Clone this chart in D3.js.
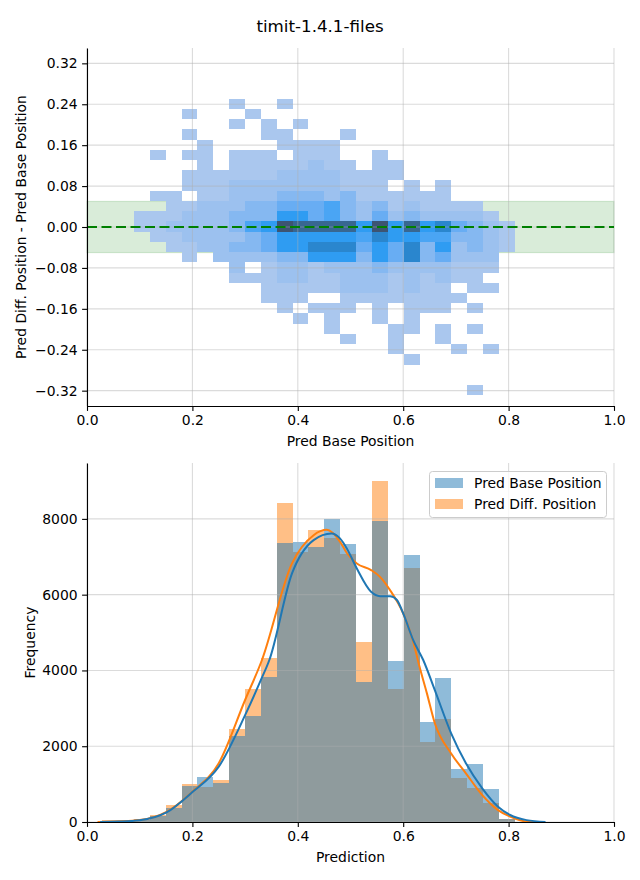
<!DOCTYPE html>
<html><head><meta charset="utf-8">
<script src="https://cdn.jsdelivr.net/npm/d3@7/dist/d3.min.js"></script>
<style>
body{margin:0;background:#fff}
text{font-family:"DejaVu Sans",sans-serif;fill:#000}
</style>
</head><body>
<svg id="c" width="640" height="880"></svg>
<script>
// ---------------- DATA ----------------
const title = "timit-1.4.1-files";
const xTickVals = [0, 0.2, 0.4, 0.6, 0.8, 1.0];
const xTickLabels = ["0.0", "0.2", "0.4", "0.6", "0.8", "1.0"];
const topYTickVals = [-0.32, -0.24, -0.16, -0.08, 0, 0.08, 0.16, 0.24, 0.32];
const topYTickLabels = ["\u22120.32", "\u22120.24", "\u22120.16", "\u22120.08", "0.00", "0.08", "0.16", "0.24", "0.32"];
const botYTickVals = [0, 2000, 4000, 6000, 8000];
const botYTickLabels = ["0", "2000", "4000", "6000", "8000"];

// 2D histogram bins (x: Pred Base Position, y: diff - base)
const heatXEdges = [0.0892,0.1193,0.1494,0.1795,0.2096,0.2397,0.2698,0.2999,0.3300,0.3601,0.3902,0.4203,0.4504,
                    0.4805,0.5106,0.5407,0.5708,0.6009,0.6310,0.6611,0.6912,0.7213,0.7514,0.7815,0.8116];
const heatYEdges = [0.251,0.231,0.211,0.191,0.171,0.151,0.131,0.111,0.091,0.071,0.051,0.031,0.011,-0.009,-0.029,
                    -0.049,-0.069,-0.089,-0.109,-0.129,-0.149,-0.169,-0.189,-0.209,-0.229,-0.249,-0.269,-0.289,-0.309,-0.329];
// relative density level per cell, rows top->bottom, 24 columns
const heatCounts = [
 [0,0,0,0,0,0,1,0,0,1,0,0,0,0,0,0,0,0,0,0,0,0,0,0],
 [0,0,0,1,0,0,0,1,0,0,0,0,0,0,0,0,0,0,0,0,0,0,0,0],
 [0,0,0,0,0,0,1,0,1,0,1,0,0,0,0,0,0,0,0,0,0,0,0,0],
 [0,0,0,1,0,0,0,0,1,1,0,0,0,1,0,0,0,0,0,0,0,0,0,0],
 [0,0,0,0,1,0,0,0,0,1,1,1,1,0,0,0,0,0,0,0,0,0,0,0],
 [0,1,0,1,1,0,1,1,1,0,1,1,1,0,0,1,0,0,0,0,0,0,0,0],
 [0,0,0,0,1,0,1,1,1,1,1,2,1,1,0,1,1,0,0,0,0,0,0,0],
 [0,0,0,1,1,1,1,1,1,2,2,2,2,1,1,1,1,0,0,0,0,0,0,0],
 [0,0,0,1,1,1,2,2,2,2,2,2,2,1,1,1,0,1,0,1,0,0,0,0],
 [0,1,1,0,1,1,2,2,2,3,3,3,2,3,1,1,1,1,1,1,0,0,0,0],
 [0,0,1,1,2,2,2,3,3,4,4,4,5,3,2,3,1,2,1,1,1,1,0,0],
 [1,1,1,2,2,2,3,3,3,6,6,4,5,3,2,4,2,3,2,2,2,2,1,0],
 [1,1,2,2,2,2,3,5,6,9,8,8,8,8,6,9,6,8,6,7,4,3,2,1],
 [0,1,1,2,2,2,2,3,4,6,6,6,6,6,5,7,6,6,5,5,3,3,2,1],
 [0,0,1,1,2,2,3,3,4,6,6,7,7,7,4,6,4,7,3,6,2,3,2,1],
 [0,0,0,1,0,2,2,2,2,3,3,6,6,6,3,6,4,7,3,4,2,2,2,0],
 [0,0,0,0,0,0,2,0,1,2,2,1,2,2,2,3,2,2,2,2,1,1,1,0],
 [0,0,0,0,0,0,1,1,1,2,2,1,1,2,2,2,1,2,1,2,1,1,0,0],
 [0,0,0,0,0,0,0,0,1,1,1,1,1,2,2,2,1,2,1,1,0,1,1,0],
 [0,0,0,0,0,0,0,0,1,1,1,0,0,1,1,1,1,1,1,1,1,0,0,0],
 [0,0,0,0,0,0,0,0,0,1,0,1,1,1,0,1,0,1,1,1,0,1,0,0],
 [0,0,0,0,0,0,0,0,0,0,1,0,1,0,0,1,0,1,0,0,0,0,0,0],
 [0,0,0,0,0,0,0,0,0,0,0,0,1,0,0,0,1,1,0,1,0,1,0,0],
 [0,0,0,0,0,0,0,0,0,0,0,0,0,1,0,0,1,0,0,1,0,0,0,0],
 [0,0,0,0,0,0,0,0,0,0,0,0,0,0,0,0,1,0,0,0,1,0,1,0],
 [0,0,0,0,0,0,0,0,0,0,0,0,0,0,0,0,0,1,0,0,0,0,0,0],
 [0,0,0,0,0,0,0,0,0,0,0,0,0,0,0,0,0,0,0,0,0,0,0,0],
 [0,0,0,0,0,0,0,0,0,0,0,0,0,0,0,0,0,0,0,0,0,0,0,0],
 [0,0,0,0,0,0,0,0,0,0,0,0,0,0,0,0,0,0,0,0,0,1,0,0]
];
const bandLow = -0.05, bandHigh = 0.05;

// 1D histograms
const histEdges = [0.0290,0.0591,0.0892,0.1193,0.1494,0.1795,0.2096,0.2397,0.2698,0.2999,0.3300,0.3601,0.3902,0.4203,
                   0.4504,0.4805,0.5106,0.5407,0.5708,0.6009,0.6310,0.6611,0.6912,0.7213,0.7514,0.7815,0.8116,0.8417];
const baseCounts = [10,20,60,150,380,950,1180,1020,2270,2800,3830,7360,7400,7270,8000,7335,3700,7940,4250,7045,2640,3800,1400,1530,870,90,10];
const diffCounts = [40,40,80,190,440,1010,920,1100,2450,3500,4340,8420,7130,7700,7500,7070,4750,9000,3500,6710,2110,2720,1170,900,510,70,5];

const baseKdeX = [0.025,0.06,0.10,0.15,0.20,0.25,0.30,0.33,0.346,0.389,0.43,0.464,0.48,0.493,0.512,0.539,0.556,0.575,0.588,0.600,0.619,0.638,0.660,0.691,0.719,0.750,0.780,0.803,0.834,0.87];
const baseKdeY = [0,10,45,245,790,1460,2820,3750,4275,6560,7440,7615,7485,7220,6690,6075,5960,5960,5860,5505,4800,4275,3480,2340,1550,890,405,185,50,0];
const diffKdeX = [0.02,0.06,0.10,0.15,0.20,0.25,0.30,0.332,0.389,0.43,0.455,0.48,0.493,0.512,0.539,0.556,0.575,0.600,0.619,0.630,0.645,0.660,0.691,0.719,0.750,0.780,0.803,0.834,0.85];
const diffKdeY = [0,15,50,260,800,1550,3220,4275,6825,7570,7710,7400,7100,6825,6650,6470,6120,5505,4760,4150,3395,2605,1810,1285,710,315,140,10,0];

const seriesNames = ["Pred Base Position", "Pred Diff. Position"];

// ---------------- DRAW ----------------
const svg = d3.select("#c");
const FS = 13.9;
const L = 87, R = 614;
const top1 = 48, bot1 = 406;
const top2 = 463, bot2 = 822;

svg.append("text").attr("x", 320).attr("y", 32).attr("text-anchor", "middle")
  .style("font-size", "16.7px").text(title);

const x = d3.scaleLinear().domain([0, 1]).range([L, R]);
const y1 = d3.scaleLinear().domain([-0.35, 0.35]).range([bot1, top1]);
const y2 = d3.scaleLinear().domain([0, 9475]).range([bot2, top2]);

const heatColor = d3.scaleLinear().domain([1,2,3,4,5,6,7,8,9])
  .range(["#aac7ee","#9cc1ef","#85b8f1","#68adf3","#4aa5f4","#2f9cf2","#2a86ce","#386791","#3d5472"]);

// ---- top panel ----
const g1 = svg.append("g");
g1.append("rect").attr("x", x(0)).attr("width", x(1) - x(0))
  .attr("y", y1(bandHigh)).attr("height", y1(bandLow) - y1(bandHigh))
  .attr("fill", "rgba(0,128,0,0.15)").attr("stroke", "rgba(0,128,0,0.15)").attr("stroke-width", 1.2);

const cells = [];
heatCounts.forEach((row, r) => row.forEach((v, c) => {
  if (v > 0) cells.push({x0: heatXEdges[c], x1: heatXEdges[c+1], y0: heatYEdges[r], y1: heatYEdges[r+1], v});
}));
g1.selectAll("rect.cell").data(cells).enter().append("rect").attr("class","cell")
  .attr("x", d => x(d.x0)).attr("width", d => x(d.x1) - x(d.x0))
  .attr("y", d => y1(d.y0)).attr("height", d => y1(d.y1) - y1(d.y0))
  .attr("fill", d => heatColor(d.v)).attr("shape-rendering", "crispEdges");

// grid top
const gridStroke = "rgba(176,176,176,0.45)";
g1.selectAll("line.gx").data(xTickVals).enter().append("line")
  .attr("x1", d => x(d)).attr("x2", d => x(d)).attr("y1", top1).attr("y2", bot1)
  .attr("stroke", gridStroke).attr("stroke-width", 1.1);
g1.selectAll("line.gy").data(topYTickVals).enter().append("line")
  .attr("x1", L).attr("x2", R).attr("y1", d => y1(d)).attr("y2", d => y1(d))
  .attr("stroke", gridStroke).attr("stroke-width", 1.1);

g1.append("line").attr("x1", x(0)).attr("x2", x(1)).attr("y1", y1(0)).attr("y2", y1(0))
  .attr("stroke", "#008000").attr("stroke-width", 2).attr("stroke-dasharray", "10,4.5");

function styleAxis(sel) {
  sel.selectAll("path.domain").attr("stroke", "#000").attr("stroke-width", 1.1);
  sel.selectAll(".tick line").attr("stroke", "#000").attr("stroke-width", 1.1);
  sel.selectAll(".tick text").style("font-size", FS + "px").style("font-family", '"DejaVu Sans",sans-serif').attr("fill", "#000");
}

const ax1x = g1.append("g").attr("transform", `translate(0,${bot1})`)
  .call(d3.axisBottom(x).tickValues(xTickVals).tickFormat((d, i) => xTickLabels[i]).tickSize(4.9).tickSizeOuter(0).tickPadding(4.5));
styleAxis(ax1x);
const ax1y = g1.append("g").attr("transform", `translate(${L},0)`)
  .call(d3.axisLeft(y1).tickValues(topYTickVals).tickFormat((d, i) => topYTickLabels[i]).tickSize(4.9).tickSizeOuter(0).tickPadding(4.5));
styleAxis(ax1y);

svg.append("text").attr("x", (L + R) / 2).attr("y", 446).attr("text-anchor", "middle")
  .style("font-size", FS + "px").text("Pred Base Position");
svg.append("text").attr("transform", `translate(26,${(top1 + bot1) / 2}) rotate(-90)`).attr("text-anchor", "middle")
  .style("font-size", FS + "px").text("Pred Diff. Position - Pred Base Position");

// ---- bottom panel ----
const g2 = svg.append("g");
const bins = histEdges.slice(0, -1).map((e, i) => ({x0: e, x1: histEdges[i+1], b: baseCounts[i], d: diffCounts[i]}));

g2.selectAll("rect.hd").data(bins).enter().append("rect").attr("class", "hd")
  .attr("x", d => x(d.x0)).attr("width", d => x(d.x1) - x(d.x0))
  .attr("y", d => y2(d.d)).attr("height", d => y2(0) - y2(d.d))
  .attr("fill", "#ff7f0e").attr("fill-opacity", 0.5).attr("shape-rendering", "crispEdges");
g2.selectAll("rect.hb").data(bins).enter().append("rect").attr("class", "hb")
  .attr("x", d => x(d.x0)).attr("width", d => x(d.x1) - x(d.x0))
  .attr("y", d => y2(d.b)).attr("height", d => y2(0) - y2(d.b))
  .attr("fill", "#1f77b4").attr("fill-opacity", 0.5).attr("shape-rendering", "crispEdges");

g2.selectAll("line.gx").data(xTickVals).enter().append("line")
  .attr("x1", d => x(d)).attr("x2", d => x(d)).attr("y1", top2).attr("y2", bot2)
  .attr("stroke", gridStroke).attr("stroke-width", 1.1);
g2.selectAll("line.gy").data(botYTickVals).enter().append("line")
  .attr("x1", L).attr("x2", R).attr("y1", d => y2(d)).attr("y2", d => y2(d))
  .attr("stroke", gridStroke).attr("stroke-width", 1.1);

const line = d3.line().x(d => x(d[0])).y(d => y2(d[1])).curve(d3.curveMonotoneX);
g2.append("path").datum(diffKdeX.map((v, i) => [v, diffKdeY[i]])).attr("d", line)
  .attr("fill", "none").attr("stroke", "#ff7f0e").attr("stroke-width", 2);
g2.append("path").datum(baseKdeX.map((v, i) => [v, baseKdeY[i]])).attr("d", line)
  .attr("fill", "none").attr("stroke", "#1f77b4").attr("stroke-width", 2);

const ax2x = g2.append("g").attr("transform", `translate(0,${bot2})`)
  .call(d3.axisBottom(x).tickValues(xTickVals).tickFormat((d, i) => xTickLabels[i]).tickSize(4.9).tickSizeOuter(0).tickPadding(4.5));
styleAxis(ax2x);
const ax2y = g2.append("g").attr("transform", `translate(${L},0)`)
  .call(d3.axisLeft(y2).tickValues(botYTickVals).tickFormat((d, i) => botYTickLabels[i]).tickSize(4.9).tickSizeOuter(0).tickPadding(4.5));
styleAxis(ax2y);

svg.append("text").attr("x", (L + R) / 2).attr("y", 862).attr("text-anchor", "middle")
  .style("font-size", FS + "px").text("Prediction");
svg.append("text").attr("transform", `translate(35,${(top2 + bot2) / 2}) rotate(-90)`).attr("text-anchor", "middle")
  .style("font-size", FS + "px").text("Frequency");

// legend
const lg = svg.append("g");
lg.append("rect").attr("x", 429.5).attr("y", 471.5).attr("width", 177).attr("height", 46).attr("rx", 3)
  .attr("fill", "#fff").attr("fill-opacity", 0.8).attr("stroke", "#cccccc");
[["#1f77b4", 0], ["#ff7f0e", 1]].forEach(([col, i]) => {
  lg.append("rect").attr("x", 435).attr("y", 478 + i * 21).attr("width", 28).attr("height", 10)
    .attr("fill", col).attr("fill-opacity", 0.5);
  lg.append("text").attr("x", 474).attr("y", 488 + i * 21).style("font-size", FS + "px").text(seriesNames[i]);
});
</script>
</body></html>
